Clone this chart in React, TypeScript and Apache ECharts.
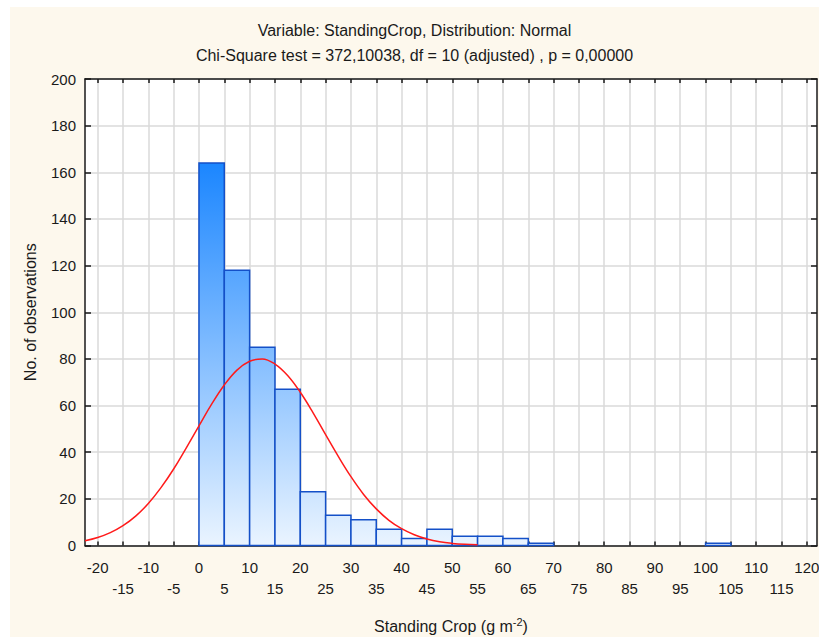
import React, { useEffect, useRef } from "react";
import * as echarts from "echarts";

// Histogram bins (lower edge, width 5) and observed counts
const BIN_WIDTH = 5;
const binStarts = [0, 5, 10, 15, 20, 25, 30, 35, 40, 45, 50, 55, 60, 65, 100];
const binCounts = [164, 118, 85, 67, 23, 13, 11, 7, 3, 7, 4, 4, 3, 1, 1];

// Fitted normal curve
const curveX = [-22.5, -20, -17.5, -15, -12.5, -10, -7.5, -5, -2.5, 0, 2.5, 5, 7.5, 10, 12.5, 15, 17.5, 20, 22.5, 25, 27.5, 30, 32.5, 35, 37.5, 40, 42.5, 45, 47.5, 50, 52.5, 55];
const curveY = [2.0, 3.4, 5.5, 8.5, 12.6, 18.0, 24.8, 32.8, 41.9, 51.3, 60.6, 68.8, 75.2, 79.0, 80.0, 77.8, 72.9, 65.7, 57.0, 47.5, 38.2, 29.5, 21.9, 15.7, 10.8, 7.2, 4.6, 2.8, 1.6, 0.9, 0.5, 0.3];

// Axis ticks
const xTicks = [-20, -15, -10, -5, 0, 5, 10, 15, 20, 25, 30, 35, 40, 45, 50, 55, 60, 65, 70, 75, 80, 85, 90, 95, 100, 105, 110, 115, 120];
const X_MIN = -22.5;
const X_MAX = 122;
const Y_MIN = 0;
const Y_MAX = 200;
const Y_STEP = 20;

const TITLE_1 = "Variable: StandingCrop, Distribution: Normal";
const TITLE_2 = "Chi-Square test = 372,10038, df = 10 (adjusted) , p = 0,00000";
const Y_NAME = "No. of observations";

const FONT = "'Liberation Sans', Arial, sans-serif";
const INK = "#1a1a1a";

export default function App() {
  const ref = useRef<HTMLDivElement>(null);

  useEffect(() => {
    if (!ref.current) return;
    const chart = echarts.init(ref.current, undefined, { renderer: "svg" });

    const axisLine = { show: true, onZero: false, lineStyle: { color: INK, width: 1.5 } };
    const gridLine = { show: true, lineStyle: { color: "#dadada", width: 1.5 } };

    const option: any = {
      animation: false,
      backgroundColor: "#fdf8ed",
      textStyle: { fontFamily: FONT },
      title: {
        text: TITLE_1 + "\n" + TITLE_2,
        left: "center",
        top: 6,
        padding: 5,
        textStyle: { fontSize: 16, fontWeight: "normal", color: INK, lineHeight: 25, fontFamily: FONT },
      },
      grid: {
        left: 75,
        top: 72,
        right: 2,
        bottom: 91.5,
        show: true,
        backgroundColor: "#ffffff",
        borderWidth: 0,
        containLabel: false,
        outerBoundsMode: "none",
      },
      xAxis: [
        {
          type: "value",
          min: X_MIN,
          max: X_MAX,
          position: "bottom",
          name: "{a|Standing Crop (g m}{s|-2}{a|)}",
          nameLocation: "middle",
          nameGap: 71,
          nameTextStyle: {
            rich: {
              a: { fontSize: 16, color: INK, fontFamily: FONT },
              s: { fontSize: 11, color: INK, fontFamily: FONT, padding: [0, 0, 8, 0] },
            },
          },
          axisLine,
          axisTick: { show: true, inside: true, length: 4, customValues: xTicks, lineStyle: { color: INK, width: 1.5 } },
          axisLabel: {
            customValues: xTicks,
            margin: 11,
            fontSize: 15,
            color: INK,
            lineHeight: 21,
            formatter: (v: number) => (Math.round(v) % 10 === 0 ? String(v) : "\n" + v),
          },
          splitLine: gridLine,
        },
        {
          type: "value",
          min: X_MIN,
          max: X_MAX,
          position: "top",
          axisLine,
          axisTick: { show: true, inside: true, length: 4, customValues: xTicks, lineStyle: { color: INK, width: 1.5 } },
          axisLabel: { show: false },
          splitLine: { show: false },
        },
      ],
      yAxis: [
        {
          type: "value",
          min: Y_MIN,
          max: Y_MAX,
          interval: Y_STEP,
          position: "left",
          name: Y_NAME,
          nameLocation: "middle",
          nameRotate: 90,
          nameGap: 47,
          nameTextStyle: { fontSize: 16, color: INK },
          axisLine,
          axisTick: { show: true, inside: true, length: 6, lineStyle: { color: INK, width: 1.5 } },
          axisLabel: { margin: 9, fontSize: 15, color: INK },
          splitLine: gridLine,
        },
        {
          type: "value",
          min: Y_MIN,
          max: Y_MAX,
          interval: Y_STEP,
          position: "right",
          axisLine,
          axisTick: { show: true, inside: true, length: 6, lineStyle: { color: INK, width: 1.5 } },
          axisLabel: { show: false },
          splitLine: { show: false },
        },
      ],
      series: [
        {
          type: "custom",
          xAxisIndex: 0,
          yAxisIndex: 0,
          data: binStarts.map((s, i) => [s, binCounts[i]]),
          renderItem: (params: any, api: any) => {
            const x0 = api.value(0);
            const c = api.value(1);
            const pTop = api.coord([x0, c]);
            const pBot = api.coord([x0 + BIN_WIDTH, 0]);
            const gTop = api.coord([0, Math.max(...binCounts)])[1];
            const gBot = api.coord([0, 0])[1];
            const fill = new echarts.graphic.LinearGradient(
              0, gTop, 0, gBot,
              [
                { offset: 0, color: "#1b86ff" },
                { offset: 1, color: "#eaf4ff" },
              ],
              true
            );
            return {
              type: "rect",
              shape: { x: pTop[0], y: pTop[1], width: pBot[0] - pTop[0], height: pBot[1] - pTop[1] },
              style: { fill, stroke: "#1450c8", lineWidth: 1.5 },
            };
          },
          z: 2,
        },
        {
          type: "line",
          xAxisIndex: 0,
          yAxisIndex: 0,
          data: curveX.map((x, i) => [x, curveY[i]]),
          smooth: 0.4,
          showSymbol: false,
          symbol: "none",
          lineStyle: { color: "#ff1a1a", width: 1.5 },
          z: 3,
        },
      ],
    };

    chart.setOption(option);
    return () => chart.dispose();
  }, []);

  return (
    <div style={{ position: "absolute", left: 0, top: 0, width: 819, height: 637, background: "#ffffff" }}>
      <div ref={ref} style={{ position: "absolute", left: 10, top: 7, width: 809, height: 630 }} />
    </div>
  );
}
